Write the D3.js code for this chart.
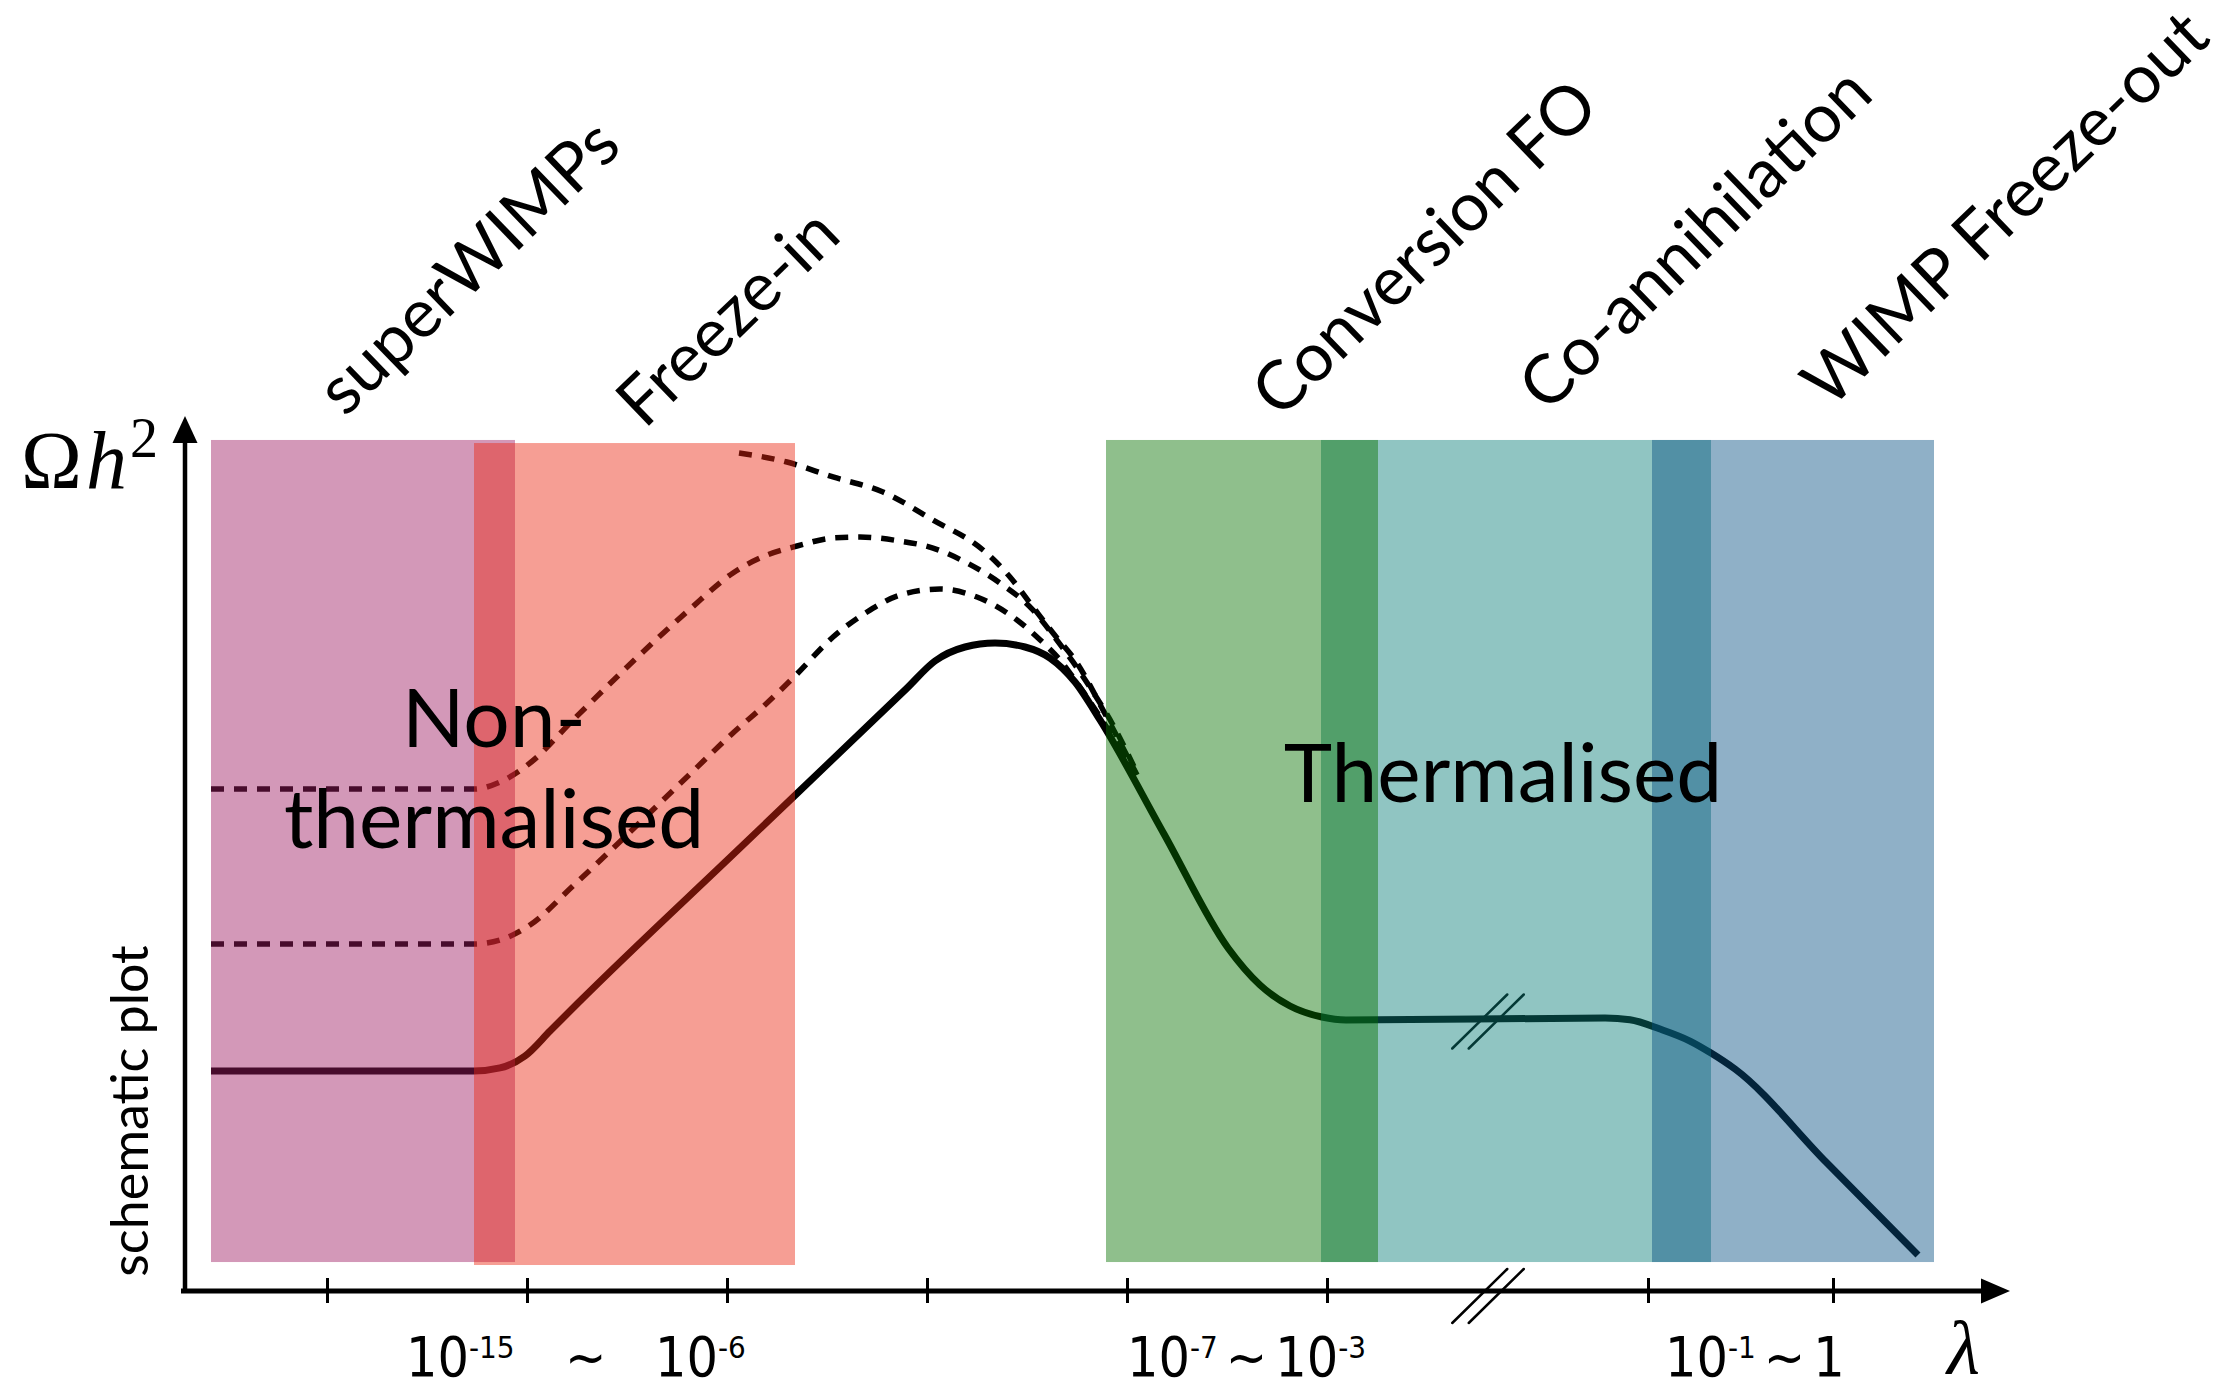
<!DOCTYPE html>
<html>
<head>
<meta charset="utf-8">
<script src="https://cdn.jsdelivr.net/npm/d3@7"></script>
<style>
  body { margin: 0; background: #fff; }
  text { font-family: Lato, "Open Sans", sans-serif; fill: #000; }
</style>
</head>
<body>
<svg id="chart" width="2232" height="1388"></svg>
<script>
  var width = 2232, height = 1388

  // schematic units: x counts tick steps along lambda, y is Omega h^2 in arbitrary units
  var xExtent = [-0.73, 8.415]
  var yExtent = [0, 100]
  var xTicks = [0, 1, 2, 3, 4, 5, 6.605, 7.53]
  var breakAt = 5.805

  var solid = [[-0.58, 25.14], [0.735, 25.14], [0.865, 25.49], [0.99, 26.86], [1.115, 29.71],
    [1.25, 32.8], [2.075, 50.86], [2.9, 68.9], [3.04, 72.0], [3.19, 73.6], [3.34, 74.06], [3.49, 73.6],
    [3.615, 72.34], [3.74, 69.6], [3.865, 65.26], [4.185, 52.23], [4.505, 39.2], [4.665, 34.97],
    [4.815, 32.57], [4.975, 31.31], [5.095, 30.97], [6.39, 31.2], [6.515, 31.0], [6.665, 29.94],
    [6.815, 28.57], [6.92, 27.2], [7.04, 25.37], [7.495, 14.74], [7.955, 4.11]]

  var dashTop = [[2.06, 95.77], [2.3, 94.74], [2.53, 93.03], [2.78, 91.31], [3.03, 88.11],
    [3.28, 84.69], [3.415, 81.6], [3.53, 78.17], [3.63, 75.2], [3.75, 71.77], [3.88, 66.4], [4.05, 58.97]]

  var dashMid = [[-0.58, 57.37], [0.735, 57.37], [0.865, 58.17], [1.015, 60.34], [1.235, 65.37],
    [1.81, 77.83], [2.03, 82.06], [2.2, 84.11], [2.35, 85.14], [2.53, 86.06], [2.665, 86.17],
    [2.865, 85.71], [3.03, 84.91], [3.2, 83.2], [3.365, 80.91], [3.53, 77.83], [3.63, 74.97],
    [3.73, 71.89], [3.83, 68.46], [3.93, 64.69], [4.05, 59.2]]

  var dashLow = [[-0.58, 39.66], [0.735, 39.66], [0.865, 40.11], [1.015, 41.83], [1.235, 46.4],
    [1.81, 58.97], [2.03, 63.77], [2.2, 67.2], [2.34, 70.29], [2.53, 74.74], [2.7, 77.6],
    [2.865, 79.54], [3.065, 80.23], [3.25, 79.31], [3.45, 76.69], [3.55, 74.74], [3.665, 72.11],
    [3.75, 69.49], [3.93, 63.31], [4.04, 59.31]]

  var bandNames = ["superWIMPs", "Freeze-in", "Conversion FO", "Co-annihilation", "WIMP Freeze-out"]
  var bandStart = [-0.58, 0.735, 3.895, 4.97, 6.625]
  var bandEnd = [0.94, 2.34, 5.255, 6.92, 8.035]
  var bandTop = [97.26, 96.91, 97.26, 97.26, 97.26]
  var bandBottom = [3.31, 2.97, 3.31, 3.31, 3.31]

  var rangeLabels = [
    [["10", 0], ["-15", 1]],
    [["~", 0]],
    [["10", 0], ["-6", 1]],
    [["10", 0], ["-7", 1], ["~", 0], ["10", 0], ["-3", 1]],
    [["10", 0], ["-1", 1], ["~", 0], ["1", 0]]
  ]
  var rangeLabelAt = [0.395, 1.19, 1.64, 4.0, 6.69]

  // styles
  var bandColors = ["rgb(157,26,97)", "rgb(235,39,17)", "rgb(6,113,0)", "rgb(8,126,119)", "rgb(6,79,131)"]
  var drawOrder = [0, 1, 3, 2, 4]
  var labelDx = [-18, 10, 38, 31, 37]
  var labelY = [418, 430, 420, 414, 410]

  var svg = d3.select("#chart")
  svg.append("rect").attr("width", width).attr("height", height).attr("fill", "#fff")

  var x = d3.scaleLinear().domain(xExtent).range([181, 2010])
  var y = d3.scaleLinear().domain(yExtent).range([1291, 416])

  var line = d3.line()
    .x(function(d) { return x(d[0]) })
    .y(function(d) { return y(d[1]) })
    .curve(d3.curveMonotoneX)

  // curves go underneath the translucent bands
  var curves = svg.append("g")
  curves.append("path").datum(solid)
    .attr("d", line).attr("fill", "none")
    .attr("stroke", "#000").attr("stroke-width", 7).attr("stroke-linejoin", "round")

  curves.selectAll(".dash")
    .data([dashTop, dashMid, dashLow])
    .enter().append("path")
    .attr("class", "dash")
    .attr("d", line).attr("fill", "none")
    .attr("stroke", "#000").attr("stroke-width", 5.5)
    .attr("stroke-dasharray", "13,10")

  function slashes(g, cx, cy) {
    [-8.25, 8.25].forEach(function(o) {
      g.append("line")
        .attr("x1", cx + o - 27.5).attr("y1", cy + 27)
        .attr("x2", cx + o + 27.5).attr("y2", cy - 27)
        .attr("stroke", "#000").attr("stroke-width", 2.5).attr("stroke-linecap", "round")
    })
  }
  slashes(curves, x(breakAt), y(30.8))

  // bands
  svg.append("g").selectAll("rect")
    .data(drawOrder)
    .enter().append("rect")
    .attr("x", function(i) { return x(bandStart[i]) })
    .attr("width", function(i) { return x(bandEnd[i]) - x(bandStart[i]) })
    .attr("y", function(i) { return y(bandTop[i]) })
    .attr("height", function(i) { return y(bandBottom[i]) - y(bandTop[i]) })
    .attr("fill", function(i) { return bandColors[i] })
    .attr("fill-opacity", 0.45)

  // x axis
  var xAxis = d3.axisBottom(x).tickValues(xTicks).tickSize(12).tickFormat("")
  var ax = svg.append("g").attr("transform", "translate(0," + y(0) + ")").call(xAxis)
  ax.select(".domain").remove()
  ax.selectAll(".tick line").attr("y1", -13).attr("y2", 12)
    .attr("stroke", "#000").attr("stroke-width", 3)

  svg.append("line")
    .attr("x1", x(xExtent[0])).attr("x2", x(xExtent[1]) - 20)
    .attr("y1", y(0)).attr("y2", y(0))
    .attr("stroke", "#000").attr("stroke-width", 5)
  svg.append("path")
    .attr("d", "M" + x(xExtent[1]) + "," + y(0) + "l-29,-12.5v25z")
    .attr("fill", "#000")
  slashes(svg, x(breakAt), y(-0.57))

  // y axis
  var yx = x(-0.71)
  svg.append("line")
    .attr("x1", yx).attr("x2", yx)
    .attr("y1", y(0) + 2).attr("y2", y(yExtent[1]) + 20)
    .attr("stroke", "#000").attr("stroke-width", 4.5)
  svg.append("path")
    .attr("d", "M" + yx + "," + y(yExtent[1]) + "l-12.5,27h25z")
    .attr("fill", "#000")

  // tick range labels
  rangeLabels.forEach(function(parts, k) {
    var t = svg.append("text")
      .attr("x", x(rangeLabelAt[k])).attr("y", 1376)
      .style("font-family", '"Liberation Sans Narrow", "DejaVu Sans Condensed", "Liberation Sans", sans-serif')
      .style("font-size", "55px")
    var raised = false
    parts.forEach(function(p, j) {
      var s = t.append("tspan").text(p[0])
      if (p[1] && !raised) { s.attr("dy", -18).style("font-size", "31px"); raised = true }
      else if (!p[1] && raised) { s.attr("dy", 18); raised = false }
      if (j > 0 && (p[0] == "~" || parts[j - 1][0] == "~")) s.attr("dx", 8)
    })
  })

  // band labels
  bandNames.forEach(function(name, i) {
    var cx = x((bandStart[i] + bandEnd[i]) / 2) + labelDx[i]
    svg.append("text")
      .attr("x", cx).attr("y", labelY[i])
      .attr("transform", "rotate(-44," + cx + "," + labelY[i] + ")")
      .style("font-size", "68px")
      .text(name)
  })

  svg.append("text").attr("x", x(0.835)).attr("y", y(62.17))
    .attr("text-anchor", "middle").style("font-size", "82px").text("Non-")
  svg.append("text").attr("x", x(0.835)).attr("y", y(50.63))
    .attr("text-anchor", "middle").style("font-size", "82px").text("thermalised")
  svg.append("text").attr("x", x(5.88)).attr("y", y(55.89))
    .attr("text-anchor", "middle").style("font-size", "82px").text("Thermalised")

  svg.append("text")
    .attr("transform", "translate(148,1111) rotate(-90)")
    .attr("text-anchor", "middle").style("font-size", "52px")
    .text("schematic plot")

  // axis titles
  var serif = '"Liberation Serif", "DejaVu Serif", serif'
  var om = svg.append("text").attr("x", 21).attr("y", 488)
    .style("font-family", serif).style("font-size", "82px")
  om.append("tspan").text("Ω")
  om.append("tspan").attr("x", 86).style("font-style", "italic").text("h")
  om.append("tspan").attr("x", 130).attr("dy", -31).style("font-size", "56px").text("2")

  svg.append("text").attr("x", 1947).attr("y", 1374)
    .style("font-family", serif).style("font-style", "italic").style("font-size", "76px")
    .text("λ")
</script>
</body>
</html>
